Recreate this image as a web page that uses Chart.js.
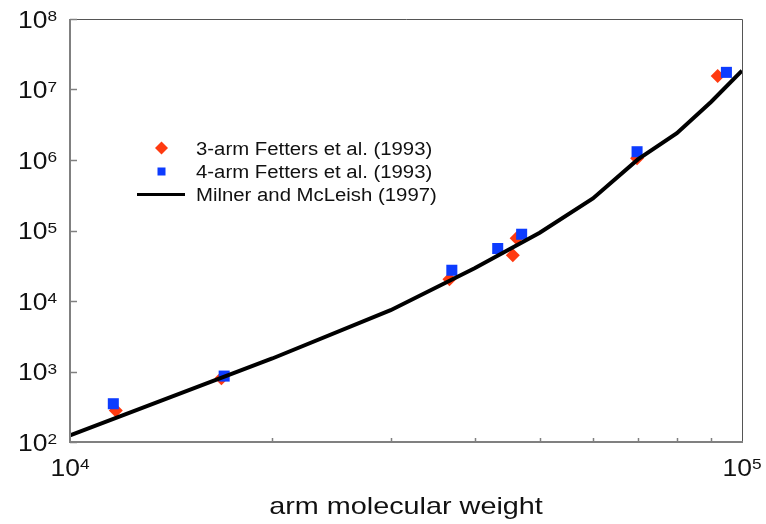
<!DOCTYPE html>
<html>
<head>
<meta charset="utf-8">
<script src="https://cdn.jsdelivr.net/npm/chart.js@4/dist/chart.umd.min.js"></script>
<style>
  html, body { margin: 0; padding: 0; background: #fff; }
  #wrap { width: 766px; height: 524px; position: relative; }
</style>
</head>
<body>
<div id="wrap"><canvas id="relaxChart"></canvas></div>
<script>
// 3-arm star data (Fetters et al. 1993)
const armWeight3 = [11700, 16800, 36700, 45600, 46200, 69800, 92000];
const relax3 = [280, 800, 20300, 44500, 77800, 1060000, 15500000];

// 4-arm star data (Fetters et al. 1993)
const armWeight4 = [11600, 16960, 37000, 43300, 47000, 69800, 94800];
const relax4 = [349, 861, 27300, 55500, 88500, 1310000, 17500000];

// theory curve (Milner and McLeish 1997)
const theoryWeight = [10000, 20000, 30000, 40000, 50000, 60000, 70000, 80000, 90000, 100000];
const theoryTime = [124, 1530, 7400, 29100, 93000, 285000, 1020000, 2400000, 6700000, 18500000];

const yExponents = [2, 3, 4, 5, 6, 7, 8];
const xExponents = [4, 5];
const xMinor = [20000, 30000, 40000, 50000, 60000, 70000, 80000, 90000];

const legendLabels = ['3-arm Fetters et al. (1993)', '4-arm Fetters et al. (1993)', 'Milner and McLeish (1997)'];
const xTitle = 'arm molecular weight';

const RED = '#FF3A10';
const BLUE = '#0D3CFF';
const FONT = '"Liberation Sans", Arial, sans-serif';

const toPoints = (xs, ys) => xs.map((x, i) => ({ x: x, y: ys[i] }));

// text drawn a bit wider than the font, like the original picture
function stretchText(ctx, str, x, y, size, sx, align) {
    ctx.save();
    ctx.font = size + 'px ' + FONT;
    const w = ctx.measureText(str).width * sx;
    let left = x;
    if (align === 'right') left = x - w;
    if (align === 'center') left = x - w / 2;
    ctx.translate(left, y);
    ctx.scale(sx, 1);
    ctx.textAlign = 'left';
    ctx.textBaseline = 'alphabetic';
    ctx.fillText(str, 0, 0);
    ctx.restore();
    return w;
}

function measure(ctx, str, size, sx) {
    ctx.save();
    ctx.font = size + 'px ' + FONT;
    const w = ctx.measureText(str).width * sx;
    ctx.restore();
    return w;
}

function drawPower(ctx, exp, x, baseline, align) {
    const sx = 1.15;
    const wb = measure(ctx, '10', 23, sx);
    const we = measure(ctx, String(exp), 15, sx);
    let left = x;
    if (align === 'right') left = x - wb - we;
    if (align === 'center') left = x - (wb + we) / 2;
    stretchText(ctx, '10', left, baseline, 23, sx, 'left');
    stretchText(ctx, String(exp), left + wb, baseline - 6.5, 15, sx, 'left');
}

const framePlugin = {
    id: 'frameAndLabels',
    afterDraw(chart) {
        const ctx = chart.ctx;
        const area = chart.chartArea;
        const xs = chart.scales.x;
        const ys = chart.scales.y;

        ctx.save();
        // frame
        ctx.strokeStyle = '#555';
        ctx.lineWidth = 1;
        ctx.beginPath();
        ctx.moveTo(area.left, area.top + 0.5);
        ctx.lineTo(area.right + 0.5, area.top + 0.5);
        ctx.lineTo(area.right + 0.5, area.bottom);
        ctx.stroke();

        ctx.strokeStyle = '#808080';
        ctx.lineWidth = 2;
        ctx.beginPath();
        ctx.moveTo(area.left, area.top);
        ctx.lineTo(area.left, area.bottom);
        ctx.lineTo(area.right + 1, area.bottom);
        ctx.stroke();

        // y decade ticks (inside)
        ctx.lineWidth = 1.5;
        yExponents.forEach(e => {
            const py = Math.round(ys.getPixelForValue(Math.pow(10, e))) + 0.5;
            ctx.beginPath();
            ctx.moveTo(area.left, py);
            ctx.lineTo(area.left + 7, py);
            ctx.stroke();
        });
        // x minor ticks (inside)
        xMinor.forEach(v => {
            const px = Math.round(xs.getPixelForValue(v)) + 0.5;
            ctx.beginPath();
            ctx.moveTo(px, area.bottom);
            ctx.lineTo(px, area.bottom - 4);
            ctx.stroke();
        });

        // tick labels
        ctx.fillStyle = '#111';
        yExponents.forEach(e => {
            const py = ys.getPixelForValue(Math.pow(10, e));
            drawPower(ctx, e, area.left - 13, py + 8.5, 'right');
        });
        xExponents.forEach(e => {
            const px = xs.getPixelForValue(Math.pow(10, e));
            drawPower(ctx, e, px, area.bottom + 33.5, 'center');
        });

        // axis title
        stretchText(ctx, xTitle, (area.left + area.right) / 2, 514, 24, 1.2, 'center');

        // legend
        const lx = 161.5;
        const rows = [148, 171.5, 194.5];
        ctx.fillStyle = RED;
        ctx.beginPath();
        ctx.moveTo(lx - 6.5, rows[0]);
        ctx.lineTo(lx, rows[0] - 6.5);
        ctx.lineTo(lx + 6.5, rows[0]);
        ctx.lineTo(lx, rows[0] + 6.5);
        ctx.closePath();
        ctx.fill();
        ctx.fillStyle = BLUE;
        ctx.fillRect(lx - 4, rows[1] - 4, 8, 8);
        ctx.strokeStyle = '#000';
        ctx.lineWidth = 3;
        ctx.beginPath();
        ctx.moveTo(137, rows[2]);
        ctx.lineTo(185, rows[2]);
        ctx.stroke();

        ctx.fillStyle = '#111';
        legendLabels.forEach((t, i) => {
            stretchText(ctx, t, 196, rows[i] + 6.5, 18, 1.13, 'left');
        });
        ctx.restore();
    }
};

const chart = new Chart(document.getElementById('relaxChart').getContext('2d'), {
    type: 'scatter',
    data: {
        datasets: [
            {
                label: legendLabels[0],
                data: toPoints(armWeight3, relax3),
                pointStyle: 'rectRot',
                pointRadius: 7,
                pointBorderWidth: 0,
                backgroundColor: RED,
                borderColor: RED,
                order: 2
            },
            {
                label: legendLabels[1],
                data: toPoints(armWeight4, relax4),
                pointStyle: 'rect',
                pointRadius: 7.8,
                pointBorderWidth: 0,
                backgroundColor: BLUE,
                borderColor: BLUE,
                order: 1
            },
            {
                label: legendLabels[2],
                data: toPoints(theoryWeight, theoryTime),
                showLine: true,
                pointRadius: 0,
                borderColor: '#000',
                borderWidth: 4,
                tension: 0,
                order: 0
            }
        ]
    },
    options: {
        responsive: true,
        maintainAspectRatio: false,
        animation: false,
        layout: { padding: { left: 70, right: 24, top: 19, bottom: 82 } },
        plugins: {
            legend: { display: false },
            tooltip: { enabled: false }
        },
        scales: {
            x: {
                type: 'logarithmic',
                min: 10000,
                max: 100000,
                ticks: { display: false },
                grid: { display: false, drawTicks: false },
                border: { display: false }
            },
            y: {
                type: 'logarithmic',
                min: 100,
                max: 100000000,
                ticks: { display: false },
                grid: { display: false, drawTicks: false },
                border: { display: false }
            }
        }
    },
    plugins: [framePlugin]
});
</script>
</body>
</html>
